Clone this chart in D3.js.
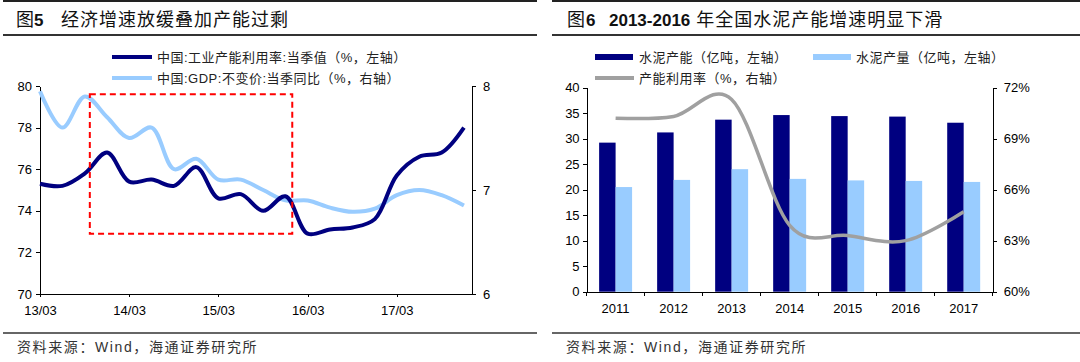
<!DOCTYPE html>
<html>
<head>
<meta charset="utf-8">
<script src="https://cdn.jsdelivr.net/npm/d3@7"></script>
<style>
  body { margin: 0; background: #fff; }
  svg { display: block; }
  text { font-family: "Liberation Sans", Arial, "Noto Sans CJK SC", sans-serif; fill: #000; }
  .axis path, .axis line { stroke: #000; shape-rendering: crispEdges; }
  .axis text { font-size: 13px; }
  .legend text { font-size: 13px; letter-spacing: 0.5px; fill: #222; }
  .title { font-size: 18px; letter-spacing: 1px; fill: #111; }
  .source { font-size: 14px; letter-spacing: 1.6px; fill: #333; }
</style>
</head>
<body>
<svg id="chart" width="1080" height="362"></svg>
<script>
// ---- Fig 5 data (quarterly) ----
const quarters = ['2013-03', '2013-06', '2013-09', '2013-12',
    '2014-03', '2014-06', '2014-09', '2014-12',
    '2015-03', '2015-06', '2015-09', '2015-12',
    '2016-03', '2016-06', '2016-09', '2016-12',
    '2017-03', '2017-06', '2017-09', '2017-12'];
const utilization = [75.3, 75.2, 75.8, 76.8, 75.4, 75.5, 75.2, 76.1, 74.6, 74.8,
    74.0, 74.7, 72.9, 73.1, 73.2, 73.6, 75.7, 76.6, 76.8, 78.0];
const gdp = [7.95, 7.6, 7.9, 7.7, 7.5, 7.6, 7.2, 7.3, 7.1, 7.1,
    7.0, 6.9, 6.9, 6.83, 6.79, 6.82, 6.95, 7.0, 6.95, 6.85];
const quarterTicks = ['2013-03', '2014-03', '2015-03', '2016-03', '2017-03'];
const utilTicks = [70, 72, 74, 76, 78, 80];
const gdpTicks = [6, 7, 8];
const boxDates = ['2013-09-21', '2015-12-29'];
const boxValues = [72.9, 79.6];

// ---- Fig 6 data (yearly) ----
const years = ['2011', '2012', '2013', '2014', '2015', '2016', '2017'];
const capacity = [29.2, 31.2, 33.7, 34.6, 34.4, 34.3, 33.1];
const production = [20.5, 21.9, 24.0, 22.1, 21.8, 21.7, 21.5];
const utilRate = [70.2, 70.3, 71.3, 63.9, 63.3, 63.0, 64.7];
const volumeTicks = [0, 5, 10, 15, 20, 25, 30, 35, 40];
const rateTicks = [60, 63, 66, 69, 72];

const NAVY = '#000080';
const PALE = '#99ccff';
const GREY = '#a0a0a0';

const svg = d3.select('#chart');
const parseMonth = d3.timeParse('%Y-%m');
const parseDay = d3.timeParse('%Y-%m-%d');

// frame rules for one panel
drawFrame = (x0, x1, title) => {
    svg.append('line').attr('x1', x0).attr('x2', x1).attr('y1', 1).attr('y2', 1)
        .attr('stroke', '#222').attr('stroke-width', 2);
    svg.append('line').attr('x1', x0).attr('x2', x1).attr('y1', 35).attr('y2', 35)
        .attr('stroke', '#333').attr('stroke-width', 2);
    svg.append('line').attr('x1', x0).attr('x2', x1).attr('y1', 333).attr('y2', 333)
        .attr('stroke', '#333').attr('stroke-width', 1.5);

    const t = svg.append('text').attr('class', 'title').attr('y', 26);
    title.forEach(part => {
        const span = t.append('tspan').text(part.text);
        if (part.x !== undefined) span.attr('x', part.x);
        if (part.dx !== undefined) span.attr('dx', part.dx);
        if (part.bold) {
            span.attr('font-weight', 'bold')
                .attr('font-size', 17)
                .attr('letter-spacing', 0)
                .attr('font-family', '"Liberation Sans", Arial, sans-serif');
        }
    });

    svg.append('text').attr('class', 'source')
        .attr('x', x0 + 14).attr('y', 352)
        .text('资料来源：Wind，海通证券研究所');
};

// ---- Fig 5 ----
drawFig5 = () => {
    const box = {left: 40, right: 472, top: 86, bottom: 294};
    const dates = quarters.map(parseMonth);

    const x = d3.scaleTime()
        .domain([dates[0], parseDay('2018-01-03')])
        .range([box.left, box.right]);
    const yL = d3.scaleLinear().domain([70, 80]).range([box.bottom, box.top]);
    const yR = d3.scaleLinear().domain([6, 8]).range([box.bottom, box.top]);

    const g = svg.append('g');

    g.append('g').attr('class', 'axis')
        .attr('transform', `translate(0, ${box.bottom})`)
        .call(d3.axisBottom(x)
            .tickValues(quarterTicks.map(parseMonth))
            .tickFormat(d3.timeFormat('%y/%m'))
            .tickSize(3).tickSizeOuter(0).tickPadding(9));

    g.append('g').attr('class', 'axis')
        .attr('transform', `translate(${box.left}, 0)`)
        .call(d3.axisLeft(yL).tickValues(utilTicks).tickFormat(d3.format('d'))
            .tickSize(4).tickSizeOuter(0).tickPadding(4));

    g.append('g').attr('class', 'axis')
        .attr('transform', `translate(${box.right}, 0)`)
        .call(d3.axisRight(yR).tickValues(gdpTicks).tickFormat(d3.format('d'))
            .tickSize(4).tickSizeOuter(0).tickPadding(7));

    const curve = d3.curveCatmullRom.alpha(0.5);

    g.append('path')
        .datum(gdp)
        .attr('fill', 'none')
        .attr('stroke', PALE)
        .attr('stroke-width', 4)
        .attr('d', d3.line().curve(curve).x((d, i) => x(dates[i])).y(d => yR(d)));

    g.append('path')
        .datum(utilization)
        .attr('fill', 'none')
        .attr('stroke', NAVY)
        .attr('stroke-width', 4)
        .attr('d', d3.line().curve(curve).x((d, i) => x(dates[i])).y(d => yL(d)));

    // red dashed highlight
    const bx0 = x(parseDay(boxDates[0]));
    const bx1 = x(parseDay(boxDates[1]));
    g.append('rect')
        .attr('x', bx0).attr('y', yL(boxValues[1]))
        .attr('width', bx1 - bx0).attr('height', yL(boxValues[0]) - yL(boxValues[1]))
        .attr('fill', 'none')
        .attr('stroke', '#ff0000')
        .attr('stroke-width', 2)
        .attr('stroke-dasharray', '6,4');

    // legend
    const legend = g.append('g').attr('class', 'legend');
    [
        {label: '中国:工业产能利用率:当季值（%，左轴）', color: NAVY, y: 57},
        {label: '中国:GDP:不变价:当季同比（%，右轴）', color: PALE, y: 78}
    ].forEach(item => {
        legend.append('line')
            .attr('x1', 112).attr('x2', 152).attr('y1', item.y).attr('y2', item.y)
            .attr('stroke', item.color).attr('stroke-width', 4);
        legend.append('text').attr('x', 157).attr('y', item.y + 5).text(item.label);
    });
};

// ---- Fig 6 ----
drawFig6 = () => {
    const box = {left: 586.6, right: 992.7, top: 87.5, bottom: 291.7};

    const x0 = d3.scaleBand().domain(years).range([box.left, box.right]).padding(0);
    const x1 = d3.scaleBand().domain(['capacity', 'production'])
        .range([0, x0.bandwidth()]).paddingInner(0).paddingOuter(0.76);
    const yV = d3.scaleLinear().domain([0, 40]).range([box.bottom, box.top]);
    const yP = d3.scaleLinear().domain([60, 72]).range([box.bottom, box.top]);

    const g = svg.append('g');

    // bars
    const series = [
        {key: 'capacity', values: capacity, color: NAVY},
        {key: 'production', values: production, color: PALE}
    ];
    series.forEach(s => {
        g.append('g').selectAll('rect')
            .data(s.values)
            .enter()
            .append('rect')
            .attr('x', (d, i) => x0(years[i]) + x1(s.key))
            .attr('y', d => yV(d))
            .attr('width', x1.bandwidth())
            .attr('height', d => yV(0) - yV(d))
            .attr('fill', s.color);
    });

    // axes
    const xa = g.append('g').attr('class', 'axis')
        .attr('transform', `translate(0, ${box.bottom})`)
        .call(d3.axisBottom(x0).tickSize(0).tickPadding(12));
    xa.selectAll('.tick line').remove();
    xa.selectAll('.edge')
        .data(years.map(y => x0(y)).concat([box.right]))
        .enter()
        .append('line')
        .attr('class', 'edge')
        .attr('x1', d => d).attr('x2', d => d)
        .attr('y1', 0).attr('y2', 4);

    g.append('g').attr('class', 'axis')
        .attr('transform', `translate(${box.left}, 0)`)
        .call(d3.axisLeft(yV).tickValues(volumeTicks).tickSize(4).tickSizeOuter(0).tickPadding(3));

    g.append('g').attr('class', 'axis')
        .attr('transform', `translate(${box.right}, 0)`)
        .call(d3.axisRight(yP).tickValues(rateTicks).tickFormat(d => d + '%')
            .tickSize(4).tickSizeOuter(0).tickPadding(7));

    // utilisation line
    g.append('path')
        .datum(utilRate)
        .attr('fill', 'none')
        .attr('stroke', GREY)
        .attr('stroke-width', 3.5)
        .attr('d', d3.line()
            .curve(d3.curveCardinal.tension(0))
            .x((d, i) => x0(years[i]) + x0.bandwidth() / 2)
            .y(d => yP(d)));

    // legend
    const legend = g.append('g').attr('class', 'legend');
    legend.append('rect').attr('x', 595).attr('y', 54).attr('width', 38).attr('height', 6).attr('fill', NAVY);
    legend.append('text').attr('x', 639).attr('y', 62).text('水泥产能（亿吨，左轴）');
    legend.append('rect').attr('x', 813).attr('y', 54).attr('width', 38).attr('height', 6).attr('fill', PALE);
    legend.append('text').attr('x', 856).attr('y', 62).text('水泥产量（亿吨，左轴）');
    legend.append('line').attr('x1', 595).attr('x2', 634).attr('y1', 78).attr('y2', 78)
        .attr('stroke', GREY).attr('stroke-width', 4);
    legend.append('text').attr('x', 639).attr('y', 83).text('产能利用率（%，右轴）');
};

drawFrame(3, 537, [
    {text: '图', x: 16},
    {text: '5', x: 34, bold: true},
    {text: '经济增速放缓叠加产能过剩', x: 61}
]);
drawFrame(552, 1080, [
    {text: '图', x: 567},
    {text: '6', x: 586, bold: true},
    {text: '2013-2016', x: 609, bold: true},
    {text: '年全国水泥产能增速明显下滑', dx: 6}
]);
drawFig5();
drawFig6();
</script>
</body>
</html>
